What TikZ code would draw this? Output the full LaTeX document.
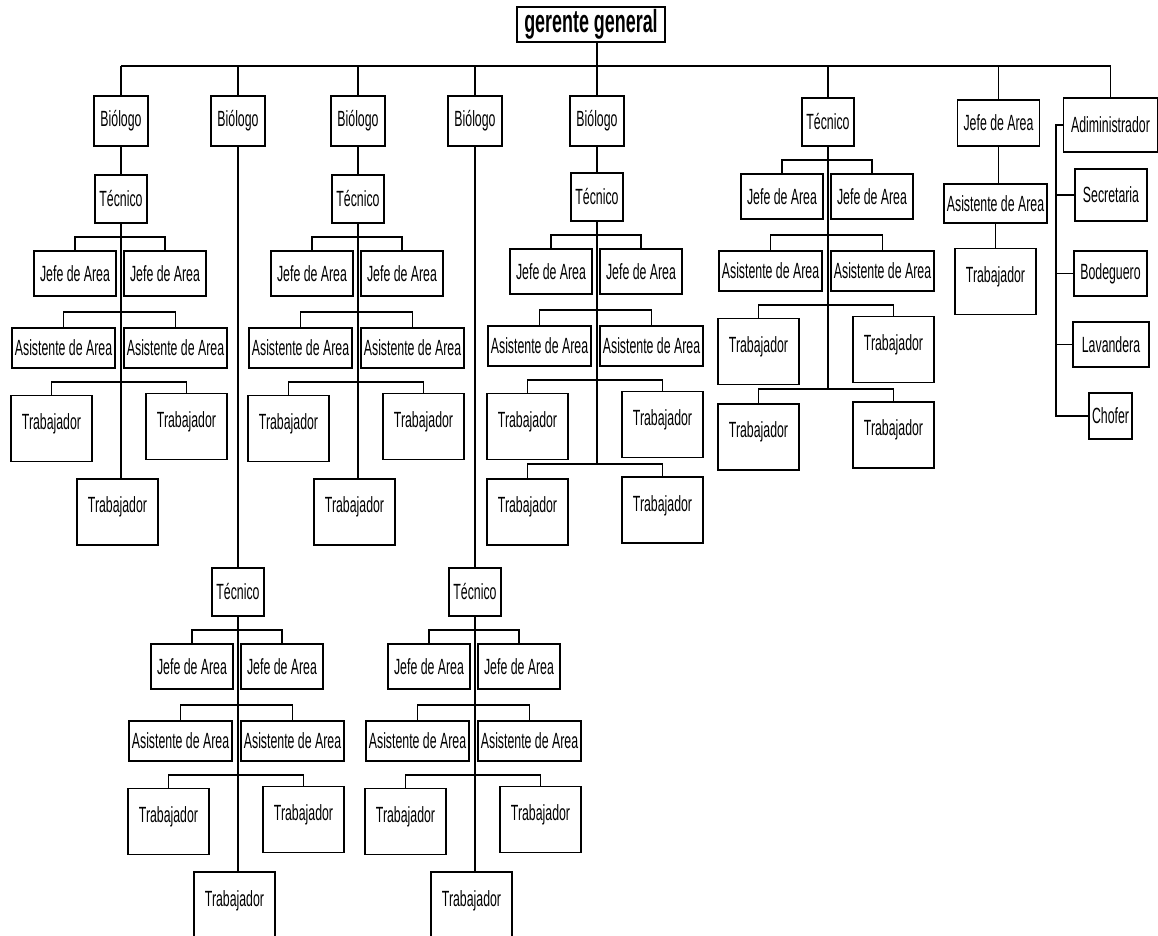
\documentclass[tikz,border=0pt]{standalone}
\usepackage{fontspec}
\setmainfont[FakeStretch=0.56]{Liberation Sans}
\usetikzlibrary{calc,positioning}

\tikzset{
  caja/.style={draw, line width=0.8pt, fill=white, inner sep=1pt, font=\fontsize{11}{13}\selectfont},
  bio/.style={caja, minimum width=27pt, minimum height=25pt},
  tec/.style={caja, minimum width=26pt, minimum height=24pt},
  jefe/.style={caja, minimum width=41pt, minimum height=22.5pt},
  asis/.style={caja, minimum width=51.5pt, minimum height=20pt},
  trab/.style={caja, minimum width=40.5pt, inner sep=2pt, text height=15pt, text depth=14pt},
  linea/.style={line width=0.8pt}
}

\begin{document}
\begin{tikzpicture}[x=0.5pt, y=-0.5pt]
\useasboundingbox (0,0) rectangle (1158,936);

\node[caja, font=\fontsize{16}{18}\bfseries\selectfont, minimum width=74pt, minimum height=17.5pt] (ger) at (591,24.5) {gerente general};
\coordinate (bus) at (0,66);

% biologos
\foreach \n/\c in {a/121, b/238, c/358, d/475, e/597}
  \node[bio] (bio-\n) at (\c,121) {Biólogo};

% tecnico con jefes, asistentes y tres trabajadores
\foreach \n/\c/\t in {a/121/175, c/358/175, b/238/568, d/475/568}{
  \begin{scope}[shift={(\c,\t)}]
    \node[tec] (\n-tec) at (0,24) {Técnico};
    \node[jefe] (\n-j1) at (-46,98.5) {Jefe de Area};
    \node[jefe] (\n-j2) at (44,98.5) {Jefe de Area};
    \node[asis] (\n-a1) at (-57.5,173) {Asistente de Area};
    \node[asis] (\n-a2) at (54.5,173) {Asistente de Area};
    \node[trab] (\n-t1) at (-69.5,253.5) {Trabajador};
    \node[trab] (\n-t2) at (65.5,251.5) {Trabajador};
    \node[trab] (\n-t3) at (-3.5,337) {Trabajador};
    \coordinate (\n-y1) at (0,62);
    \coordinate (\n-y2) at (0,137);
    \coordinate (\n-y3) at (0,207);
    \draw[linea] (\n-tec.south) -- (\n-tec.south |- \n-t3.north);
    \draw[linea] (\n-j1.north) |- (\n-y1) -| (\n-j2.north);
    \draw[linea] (\n-a1.north) |- (\n-y2) -| (\n-a2.north);
    \draw[linea] (\n-t1.north) |- (\n-y3) -| (\n-t2.north);
  \end{scope}
}

% tecnico con cuatro trabajadores
\foreach \n/\c/\t in {e/597/173, f/828/98}{
  \begin{scope}[shift={(\c,\t)}]
    \node[tec] (\n-tec) at (0,24) {Técnico};
    \node[jefe] (\n-j1) at (-46,98.5) {Jefe de Area};
    \node[jefe] (\n-j2) at (44,98.5) {Jefe de Area};
    \node[asis] (\n-a1) at (-57.5,173) {Asistente de Area};
    \node[asis] (\n-a2) at (54.5,173) {Asistente de Area};
    \node[trab] (\n-t1) at (-69.5,253.5) {Trabajador};
    \node[trab] (\n-t2) at (65.5,251.5) {Trabajador};
    \node[trab] (\n-t3) at (-69.5,339) {Trabajador};
    \node[trab] (\n-t4) at (65.5,337) {Trabajador};
    \coordinate (\n-y1) at (0,62);
    \coordinate (\n-y2) at (0,137);
    \coordinate (\n-y3) at (0,207);
    \coordinate (\n-y4) at (0,291);
    \draw[linea] (\n-tec.south) -- (\n-y4);
    \draw[linea] (\n-j1.north) |- (\n-y1) -| (\n-j2.north);
    \draw[linea] (\n-a1.north) |- (\n-y2) -| (\n-a2.north);
    \draw[linea] (\n-t1.north) |- (\n-y3) -| (\n-t2.north);
    \draw[linea] (\n-t3.north) |- (\n-y4) -| (\n-t4.north);
  \end{scope}
}

\foreach \n in {a,b,c,d,e}
  \draw[linea] (bio-\n.south) -- (\n-tec.north);

% jefe de area solo
\node[jefe, minimum height=23pt] (jefe7) at (998.5,123) {Jefe de Area};
\node[asis, minimum height=19.5pt] (asis7) at (995.5,203.5) {Asistente de Area};
\node[trab] (trab7) at (995.5,281.5) {Trabajador};
\draw[linea] (jefe7.south) -- (jefe7.south |- asis7.north);
\draw[linea] (asis7.south) -- (trab7.north);

% administrador
\node[caja, minimum width=47pt, minimum height=27pt] (adm) at (1110.5,125) {Adiministrador};
\node[caja, minimum width=36pt, minimum height=26pt] (sec) at (1111,195) {Secretaria};
\node[caja, minimum width=36.5pt, minimum height=22.5pt] (bod) at (1110.5,273.5) {Bodeguero};
\node[caja, minimum width=38pt, minimum height=22.5pt] (lav) at (1111,344.5) {Lavandera};
\node[caja, minimum width=21.5pt, minimum height=23pt] (chof) at (1110.5,416) {Chofer};
\coordinate (spine) at (1056,125);
\draw[linea] (adm.west) -- (adm.west -| spine) -- (chof.west -| spine) -- (chof.west);
\foreach \n in {sec,bod,lav}
  \draw[linea] (\n.west) -- (\n.west -| spine);

% linea superior
\foreach \n in {bio-a,bio-b,bio-c,bio-d,bio-e,f-tec,jefe7,adm}
  \draw[linea] (\n.north) -- (\n.north |- bus);
\draw[linea] (bio-a.north |- bus) -- (adm.north |- bus);
\draw[linea] (bio-e.north |- bus) -- (bio-e.north |- ger.south);
\end{tikzpicture}
\end{document}
